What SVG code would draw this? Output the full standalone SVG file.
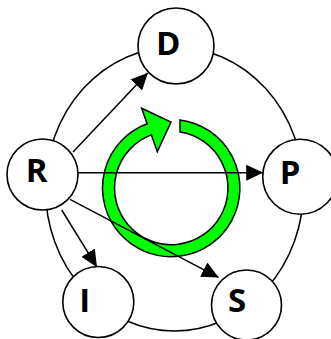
<svg xmlns="http://www.w3.org/2000/svg" width="331" height="339" viewBox="0 0 331 339">
<style>
.ring{fill:none;stroke:#000;stroke-width:1.5}
.node circle{fill:#fff;stroke:#000;stroke-width:1.6}
.node text{font-family:"Open Sans","DejaVu Sans",sans-serif;font-weight:bold;font-size:33px;text-anchor:middle;fill:#000}
.conn line{stroke:#000;stroke-width:1.5;marker-end:url(#ah)}
.cycle{fill:#00ff00;stroke:#000;stroke-width:1.5;stroke-linejoin:miter}
</style>
<defs>
<marker id="ah" markerUnits="userSpaceOnUse" markerWidth="17" markerHeight="16" refX="16.5" refY="8" orient="auto" viewBox="0 0 17 16">
<path d="M0,0 L17,8 L0,16 Z" fill="#000"/>
</marker>
</defs>
<rect width="331" height="339" fill="#fff"/>
<ellipse class="ring" cx="174.5" cy="189" rx="129" ry="142"/>
<path class="cycle" d="M180,119.9 A68.7,68.7 0 1 1 147.1,123.7 L141.7,108.3 L171,122 L157.3,151.7 L151.4,134.9 A56.7,56.7 0 1 0 180,132 Z"/>
<g id="connectors" class="conn">
<line x1="73" y1="152" x2="147.6" y2="73"/>
<line x1="77.7" y1="172.7" x2="262.7" y2="172.7"/>
<line x1="61.7" y1="210" x2="96.7" y2="266.7"/>
<line x1="70" y1="199.3" x2="218.3" y2="277.3"/>
</g>
<g id="node-D" class="node"><circle cx="176" cy="46" r="38"/><text x="168.3" y="55">D</text></g>
<g id="node-R" class="node"><circle cx="42.5" cy="174.5" r="35.5"/><text x="36.7" y="182.3">R</text></g>
<g id="node-P" class="node"><circle cx="300.2" cy="176.7" r="37.5"/><text x="290.2" y="184.3">P</text></g>
<g id="node-I" class="node"><circle cx="98.3" cy="302" r="35.5"/><text x="84.8" y="311.7">I</text></g>
<g id="node-S" class="node"><circle cx="246.5" cy="305" r="35"/><text x="237.2" y="311.7">S</text></g>
</svg>
